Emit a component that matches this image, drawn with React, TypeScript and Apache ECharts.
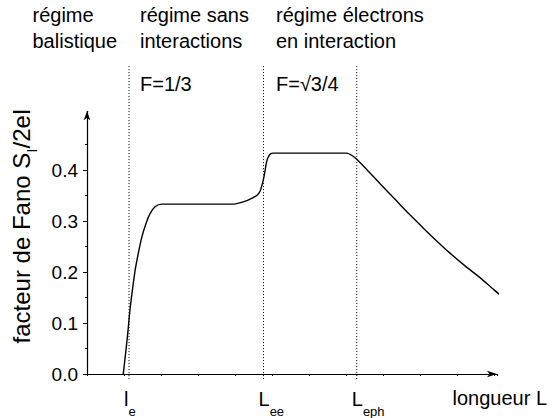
import React, { useEffect, useRef } from 'react';
import * as echarts from 'echarts';

// ---- data ----
const lengthL = [0.98, 1.05, 1.11, 1.16, 1.23, 1.3, 1.39, 1.48, 1.59, 1.7, 1.84, 2.02, 2.5, 3.0, 3.5, 3.95, 4.15, 4.32, 4.49, 4.59, 4.68, 4.76, 4.81, 4.86, 4.91, 4.95, 5.03, 5.5, 6.0, 6.5, 7.02, 7.19, 7.29, 7.56, 7.92, 8.28, 8.7, 9.09, 9.45, 9.81, 10.2, 10.62, 11.0, 11.38];
const fanoF = [0, 0.045, 0.086, 0.125, 0.166, 0.203, 0.238, 0.268, 0.294, 0.314, 0.328, 0.333, 0.333, 0.333, 0.333, 0.333, 0.336, 0.34, 0.346, 0.35, 0.359, 0.379, 0.398, 0.418, 0.427, 0.431, 0.433, 0.433, 0.433, 0.433, 0.433, 0.427, 0.421, 0.401, 0.373, 0.346, 0.314, 0.286, 0.261, 0.237, 0.213, 0.189, 0.165, 0.142];

const yTickValues = [0, 0.1, 0.2, 0.3, 0.4];
const yMinorTickValues = [0.05, 0.15, 0.25, 0.35, 0.45];

const markerPos = [1.135, 4.77, 7.29];
const markerMain = ['l', 'L', 'L'];
const markerSub = ['e', 'ee', 'eph'];

const regimeLine1 = ['régime', 'régime sans', 'régime électrons'];
const regimeLine2 = ['balistique', 'interactions', 'en interaction'];
const fanoLabels = ['F=1/3', 'F=√3/4'];

const xAxisTitle = 'longueur L';
const yTitleMain = 'facteur de Fano S';
const yTitleSub = 'I';
const yTitleRest = '/2eI';

const FONT = '"Liberation Sans", Arial, Helvetica, sans-serif';
const BIG = 20;
const SMALL = 13;
const YT_BIG = 24;
const YT_SMALL = 15;

function measure(text: string, size: number): number {
  const c = document.createElement('canvas');
  const ctx = c.getContext('2d');
  if (!ctx) return text.length * size * 0.55;
  ctx.font = `${size}px "Liberation Sans", Arial, sans-serif`;
  return ctx.measureText(text).width;
}

export default function App() {
  const ref = useRef<HTMLDivElement>(null);

  useEffect(() => {
    if (!ref.current) return;
    const chart = echarts.init(ref.current, undefined, { renderer: 'svg' });

    const curve = lengthL.map((x, i) => [x, fanoF[i]]);
    const markers = markerPos.map((x) => [x, 0]);

    const headerCols = [32.5, 140, 276];
    const graphics: any[] = [];
    regimeLine1.forEach((t, i) => {
      graphics.push({
        type: 'text', x: headerCols[i], y: 14.5,
        style: { text: t, fontSize: BIG, fontFamily: FONT, fill: '#000', align: 'left', verticalAlign: 'middle' },
      });
      graphics.push({
        type: 'text', x: headerCols[i], y: 41,
        style: { text: regimeLine2[i], fontSize: BIG, fontFamily: FONT, fill: '#000', align: 'left', verticalAlign: 'middle' },
      });
    });
    fanoLabels.forEach((t, i) => {
      graphics.push({
        type: 'text', x: headerCols[i + 1], y: 84,
        style: { text: t, fontSize: BIG, fontFamily: FONT, fill: '#000', align: 'left', verticalAlign: 'middle' },
      });
    });
    graphics.push({
      type: 'text', x: 452.5, y: 398,
      style: { text: xAxisTitle, fontSize: BIG, fontFamily: FONT, fill: '#000', align: 'left', verticalAlign: 'middle' },
    });

    // rotated y title with subscript
    const w1 = measure(yTitleMain, YT_BIG);
    const ws = measure(yTitleSub, YT_SMALL);
    const w2 = measure(yTitleRest, YT_BIG);
    const total = w1 + ws + w2;
    const start = -total / 2;
    graphics.push({
      type: 'group', x: 21.5, y: 226, rotation: Math.PI / 2,
      children: [
        { type: 'text', x: start, y: 0, style: { text: yTitleMain, fontSize: YT_BIG, fontFamily: FONT, fill: '#000', align: 'left', verticalAlign: 'middle' } },
        { type: 'text', x: start + w1, y: 10, style: { text: yTitleSub, fontSize: YT_SMALL, fontFamily: FONT, fill: '#000', align: 'left', verticalAlign: 'middle' } },
        { type: 'text', x: start + w1 + ws, y: 0, style: { text: yTitleRest, fontSize: YT_BIG, fontFamily: FONT, fill: '#000', align: 'left', verticalAlign: 'middle' } },
      ],
    });

    const axisColor = '#000';

    chart.setOption({
      animation: false,
      grid: { left: 87, top: 111.35, width: 410, height: 262.65 },
      xAxis: {
        type: 'value', min: 0, max: 11.08, interval: 1,
        axisLine: { show: true, onZero: false, lineStyle: { color: axisColor, width: 1.2 }, symbol: ['none', 'arrow'], symbolSize: [5, 10] },
        axisTick: { show: true, length: 2, lineStyle: { color: axisColor, width: 1 } },
        axisLabel: { show: false },
        splitLine: { show: false },
      },
      yAxis: [
        {
          type: 'value', min: 0, max: 0.515, interval: 0.1, position: 'left',
          axisLine: { show: true, onZero: false, lineStyle: { color: axisColor, width: 1.2 }, symbol: ['none', 'arrow'], symbolSize: [5, 9] },
          axisTick: { show: true, length: 4, customValues: yTickValues, lineStyle: { color: axisColor, width: 1 } },
          axisLabel: {
            customValues: yTickValues, fontSize: 19, fontFamily: FONT, color: '#000', margin: 9,
            formatter: (v: number) => (v > 0.45 ? '' : v.toFixed(1)),
          },
          splitLine: { show: false },
        },
        {
          type: 'value', min: 0, max: 0.515, interval: 0.05, position: 'left',
          axisLine: { show: false },
          axisTick: { show: true, length: 2, customValues: yMinorTickValues, lineStyle: { color: axisColor, width: 1 } },
          axisLabel: { show: false },
          splitLine: { show: false },
        },
      ],
      series: [
        {
          type: 'line', data: curve, xAxisIndex: 0, yAxisIndex: 0, smooth: 0.25, clip: false,
          symbol: 'none', lineStyle: { color: '#000', width: 1.4 },
        },
        {
          type: 'custom', coordinateSystem: 'cartesian2d', xAxisIndex: 0, yAxisIndex: 0,
          data: markers, clip: false,
          renderItem: (params: any, api: any) => {
            const i = params.dataIndex;
            const x = api.value(0);
            const pb = api.coord([x, -0.01]);
            const pt = api.coord([x, 0.607]);
            const p0 = api.coord([x, 0]);
            const main = markerMain[i];
            const sub = markerSub[i];
            const wm = measure(main, BIG);
            const lx = pb[0] - 5;
            return {
              type: 'group',
              children: [
                { type: 'line', shape: { x1: pb[0], y1: pb[1], x2: pt[0], y2: pt[1] }, style: { stroke: '#000', lineWidth: 1, lineDash: [1, 2] } },
                { type: 'text', x: lx, y: p0[1] + 25, style: { text: main, fontSize: BIG, fontFamily: FONT, fill: '#000', align: 'left', verticalAlign: 'middle' } },
                { type: 'text', x: lx + wm, y: p0[1] + 37.5, style: { text: sub, fontSize: SMALL, fontFamily: FONT, fill: '#000', align: 'left', verticalAlign: 'middle' } },
              ],
            };
          },
        },
      ],
      graphic: graphics,
    });

    return () => chart.dispose();
  }, []);

  return (
    <div
      ref={ref}
      style={{ position: 'absolute', left: 0, top: 0, width: 556, height: 418, background: '#fff' }}
    />
  );
}
